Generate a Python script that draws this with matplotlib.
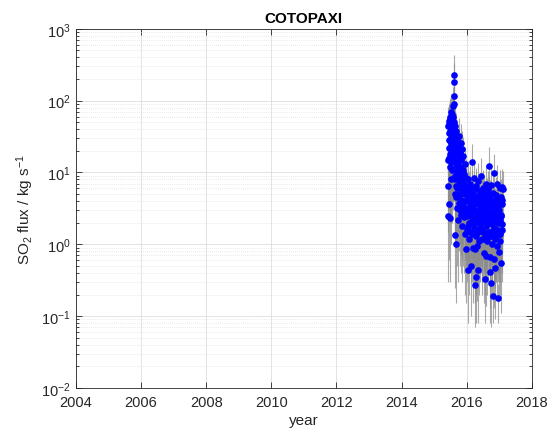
import matplotlib
matplotlib.use("Agg")
import matplotlib.pyplot as plt
from matplotlib.ticker import LogLocator, NullFormatter, FixedLocator

plt.rcParams['font.family'] = ['Liberation Sans', 'DejaVu Sans']
plt.rcParams['mathtext.fontset'] = 'custom'
plt.rcParams['mathtext.rm'] = 'Liberation Sans'
plt.rcParams['mathtext.it'] = 'Liberation Sans'

title = "COTOPAXI"
x_label = "year"
y_label = r"SO$_2$ flux / kg s$^{-1}$"
x_ticks = [2004, 2006, 2008, 2010, 2012, 2014, 2016, 2018]

# phase 1: eruption onset
dates_a = [2015.43, 2015.43, 2015.44, 2015.44, 2015.45, 2015.45, 2015.45, 2015.46, 2015.46,
           2015.47, 2015.47, 2015.48, 2015.48, 2015.49, 2015.49, 2015.50, 2015.50, 2015.51,
           2015.51, 2015.52, 2015.52, 2015.53, 2015.53, 2015.54, 2015.54, 2015.55, 2015.55,
           2015.56, 2015.56, 2015.57, 2015.57, 2015.58, 2015.58, 2015.59, 2015.59, 2015.60,
           2015.60, 2015.60, 2015.61, 2015.61, 2015.62, 2015.62]
flux_a = [45, 6.5, 15, 2.5, 52, 28, 3.6, 16, 35,
          48, 22, 60, 12, 38, 2.3, 55, 18, 30,
          70, 8, 42, 26, 14, 65, 33, 20, 48,
          11, 38, 27, 85, 16, 44, 22, 60, 230,
          180, 117, 35, 90, 24, 50]
err_a = [36, 5, 12, 2.2, 40, 22, 3, 13, 30,
         38, 18, 50, 10, 30, 2, 45, 15, 24,
         55, 7, 34, 20, 12, 50, 27, 16, 40,
         9, 30, 22, 70, 13, 35, 18, 48, 200,
         150, 95, 28, 75, 20, 40]

# phase 2: late 2015
dates_b = [2015.63, 2015.63, 2015.64, 2015.64, 2015.65, 2015.65, 2015.66, 2015.66, 2015.67,
           2015.68, 2015.68, 2015.69, 2015.70, 2015.70, 2015.71, 2015.72, 2015.72, 2015.73,
           2015.74, 2015.75, 2015.75, 2015.76, 2015.77, 2015.78, 2015.78, 2015.79, 2015.80,
           2015.81, 2015.81, 2015.82, 2015.83, 2015.84, 2015.85, 2015.85, 2015.86, 2015.87,
           2015.88, 2015.89, 2015.90, 2015.91, 2015.92, 2015.93, 2015.94, 2015.95, 2015.96,
           2015.97, 2015.98, 2015.99]
flux_b = [30, 8, 45, 1.35, 18, 5, 1.0, 25, 12,
          38, 6.5, 20, 10, 3.2, 28, 14, 2.2, 9,
          22, 5, 16, 32, 7.5, 3, 12, 19, 6,
          26, 2.6, 10, 4.2, 15, 8, 1.8, 21, 5.5,
          11, 3.5, 17, 7, 2.4, 9.5, 4, 13, 1.4,
          6, 0.85, 8.5]
err_b = [24, 6.5, 36, 1.1, 15, 4, 0.85, 20, 10,
         30, 5.5, 16, 8, 2.7, 22, 11, 1.9, 7.5,
         18, 4, 13, 26, 6, 2.5, 10, 15, 5,
         21, 2.2, 8, 3.5, 12, 6.5, 1.5, 17, 4.5,
         9, 3, 14, 5.5, 2, 8, 3.3, 10, 1.2,
         5, 0.7, 7]

# phase 3: 2016
dates_c = [2016.00, 2016.01, 2016.02, 2016.03, 2016.04, 2016.05, 2016.06, 2016.07, 2016.08, 2016.09,
           2016.10, 2016.11, 2016.12, 2016.13, 2016.14, 2016.15, 2016.16, 2016.17, 2016.18, 2016.19,
           2016.20, 2016.21, 2016.22, 2016.23, 2016.24, 2016.25, 2016.26, 2016.27, 2016.28, 2016.29,
           2016.30, 2016.31, 2016.32, 2016.33, 2016.34, 2016.35, 2016.36, 2016.37, 2016.38, 2016.39,
           2016.40, 2016.41, 2016.42, 2016.43, 2016.44, 2016.45, 2016.46, 2016.47, 2016.48, 2016.49,
           2016.50, 2016.51, 2016.52, 2016.53, 2016.54, 2016.55, 2016.56, 2016.57, 2016.58, 2016.59]
flux_c = [2.5, 4.8, 1.6, 8, 3.2, 0.44, 2, 5.5, 1.2, 3.8,
          7, 2.6, 0.5, 4.2, 1.5, 6, 2.2, 14, 3.4, 0.9,
          5, 1.9, 3, 8.5, 0.27, 0.85, 2.4, 4.5, 1.3, 6.5,
          0.35, 2.8, 1.6, 0.96, 3.6, 0.44, 7.5, 2, 4, 1.1,
          2.9, 5.5, 1.7, 3.3, 9, 2.2, 1.2, 4.6, 2.6, 6,
          1.5, 3.5, 0.75, 2.1, 5, 1.4, 0.33, 3, 7, 1.8]
err_c = [2, 4, 1.3, 6.5, 2.6, 0.36, 1.6, 4.5, 1, 3,
         5.5, 2.1, 0.4, 3.4, 1.2, 5, 1.8, 11, 2.8, 0.75,
         4, 1.5, 2.5, 7, 0.2, 0.7, 2, 3.6, 1.1, 5.2,
         0.27, 2.3, 1.3, 0.8, 3, 0.36, 6, 1.6, 3.2, 0.9,
         2.3, 4.4, 1.4, 2.7, 7, 1.8, 1, 3.7, 2.1, 4.8,
         1.2, 2.8, 0.6, 1.7, 4, 1.1, 0.25, 2.4, 5.6, 1.5]

# phase 4: late 2016 - early 2017
dates_d = [2016.60, 2016.61, 2016.62, 2016.63, 2016.64, 2016.65, 2016.66, 2016.67, 2016.68, 2016.69,
           2016.70, 2016.71, 2016.72, 2016.73, 2016.74, 2016.75, 2016.76, 2016.77, 2016.78, 2016.79,
           2016.80, 2016.81, 2016.82, 2016.83, 2016.84, 2016.84, 2016.85, 2016.86, 2016.87, 2016.88,
           2016.89, 2016.90, 2016.91, 2016.92, 2016.93, 2016.94, 2016.95, 2016.96, 2016.97, 2016.98,
           2016.99, 2017.00, 2017.01, 2017.02, 2017.03, 2017.04, 2017.05, 2017.06, 2017.07, 2017.08,
           2017.09, 2017.10]
flux_d = [0.69, 4, 2.4, 1.1, 5.8, 2.9, 1.5, 12.5, 3.6, 2,
          0.41, 0.66, 4.4, 1.3, 2.7, 6.8, 0.29, 1.9, 3.4, 1,
          5.2, 2.3, 0.19, 1.6, 9.9, 0.63, 3.9, 2.1, 1.2, 0.47,
          4.8, 2.6, 1.5, 7, 3.2, 0.95, 2, 4.2, 0.18, 1.4,
          0.79, 3, 6, 2.2, 1.1, 4.5, 0.55, 2.5, 6.2, 1.6,
          3.7, 5.8]
err_d = [0.55, 3.2, 1.9, 0.9, 4.6, 2.3, 1.2, 10, 2.9, 1.6,
         0.33, 0.53, 3.5, 1.05, 2.2, 5.4, 0.22, 1.5, 2.7, 0.8,
         4.2, 1.8, 0.11, 1.3, 8, 0.5, 3.1, 1.7, 0.95, 0.38,
         3.8, 2.1, 1.2, 5.6, 2.6, 0.75, 1.6, 3.4, 0.1, 1.1,
         0.63, 2.4, 4.8, 1.8, 0.9, 3.6, 0.44, 2, 5, 1.3,
         3, 4.6]

# additional interleaved observations, late 2015 to early 2017
dates_e = [2015.635, 2015.655, 2015.675, 2015.695, 2015.715, 2015.735, 2015.755, 2015.775,
           2015.795, 2015.815, 2015.835, 2015.855, 2015.875, 2015.895, 2015.915, 2015.935,
           2015.955, 2015.975, 2015.995, 2016.015, 2016.035, 2016.055, 2016.075, 2016.095,
           2016.115, 2016.135, 2016.155, 2016.175, 2016.195, 2016.215, 2016.235, 2016.255,
           2016.275, 2016.295, 2016.315, 2016.335, 2016.355, 2016.375, 2016.395, 2016.415,
           2016.435, 2016.455, 2016.475, 2016.495, 2016.515, 2016.535, 2016.555, 2016.575,
           2016.595, 2016.615, 2016.635, 2016.655, 2016.675, 2016.695, 2016.715, 2016.735,
           2016.755, 2016.775, 2016.795, 2016.815, 2016.835, 2016.855, 2016.875, 2016.895,
           2016.915, 2016.935, 2016.955, 2016.975, 2016.995, 2017.015, 2017.035, 2017.055,
           2017.075, 2017.095]
flux_e = [14, 9, 4.5, 12, 6, 17, 3.8, 8, 11, 5, 7, 2.9, 6.5, 4, 9, 3, 5, 2.6,
          4.2, 3, 1.8, 6, 2.8, 4.4, 2, 3.6, 1.4, 5.2, 2.4, 3.9, 1.7, 2.9,
          5.8, 2.2, 3.8, 1.5, 2.7, 4.8, 1.9, 3.2, 2.5, 5.5, 1.6, 3, 4.2, 2.3,
          1.2, 3.5, 2.6, 1.9, 4.6, 3.1, 2.2, 5, 1.5, 3.6, 2.4, 1.3, 4, 2.8,
          1.7, 3.4, 2.1, 1.3, 4.4, 2.5, 1.6, 3.2, 2.2, 1.4, 3.8, 2.6, 4.1, 1.9]
err_e = [11, 7, 3.6, 10, 5, 14, 3, 6.5, 9, 4, 5.6, 2.3, 5.2, 3.2, 7, 2.4, 4, 2.1,
         3.4, 2.4, 1.4, 4.8, 2.2, 3.5, 1.6, 2.9, 1.1, 4.2, 1.9, 3.1, 1.4, 2.3,
         4.6, 1.8, 3, 1.2, 2.2, 3.8, 1.5, 2.6, 2, 4.4, 1.3, 2.4, 3.4, 1.8,
         1, 2.8, 2.1, 1.5, 3.7, 2.5, 1.8, 4, 1.2, 2.9, 1.9, 1, 3.2, 2.2,
         1.4, 2.7, 1.7, 1, 3.5, 2, 1.3, 2.6, 1.8, 1.1, 3, 2.1, 3.3, 1.5]

dates = dates_a + dates_b + dates_c + dates_d + dates_e
flux = flux_a + flux_b + flux_c + flux_d + flux_e
err = err_a + err_b + err_c + err_d + err_e
print(len(dates_e), len(flux_e), len(err_e))

fig = plt.figure(figsize=(5.54, 4.39), dpi=100)
ax = fig.add_axes([0.137, 0.114, 0.823, 0.818])

ax.errorbar(dates, flux, yerr=err, fmt='none', ecolor='#8c8c8c', elinewidth=0.8,
            capsize=0, alpha=0.75, zorder=2)
ax.plot(dates, flux, 'o', color='#0000ff', markersize=4.8, markeredgewidth=0, zorder=3)

ax.set_yscale('log')
ax.set_ylim(1e-2, 1e3)
ax.set_xlim(2004, 2018)
ax.xaxis.set_major_locator(FixedLocator(x_ticks))
ax.set_xticklabels([str(t) for t in x_ticks])
ax.yaxis.set_major_locator(LogLocator(base=10, numticks=10))
ax.yaxis.set_minor_locator(LogLocator(base=10, subs=range(2, 10), numticks=20))
ax.yaxis.set_minor_formatter(NullFormatter())

ax.grid(True, which='major', color='#dedede', linewidth=0.6, linestyle='-')
ax.grid(True, which='minor', axis='y', color='#d6d6d6', linewidth=0.5, linestyle=(0, (1, 2)))
ax.set_axisbelow(True)

for s in ax.spines.values():
    s.set_color('#262626')
    s.set_linewidth(0.6)
ax.tick_params(which='both', direction='in', top=True, right=True, colors='#262626',
               labelsize=10.5, width=0.6)
ax.tick_params(which='major', length=4)
ax.tick_params(which='minor', length=2)
ax.tick_params(axis='x', pad=5)

ax.set_title(title, fontsize=11, fontweight='bold', color='black', pad=5)
ax.set_xlabel(x_label, fontsize=11, color='#262626', labelpad=3)
ax.set_ylabel(y_label, fontsize=11, color='#262626', labelpad=4)

fig.savefig('out.png', dpi=100)
